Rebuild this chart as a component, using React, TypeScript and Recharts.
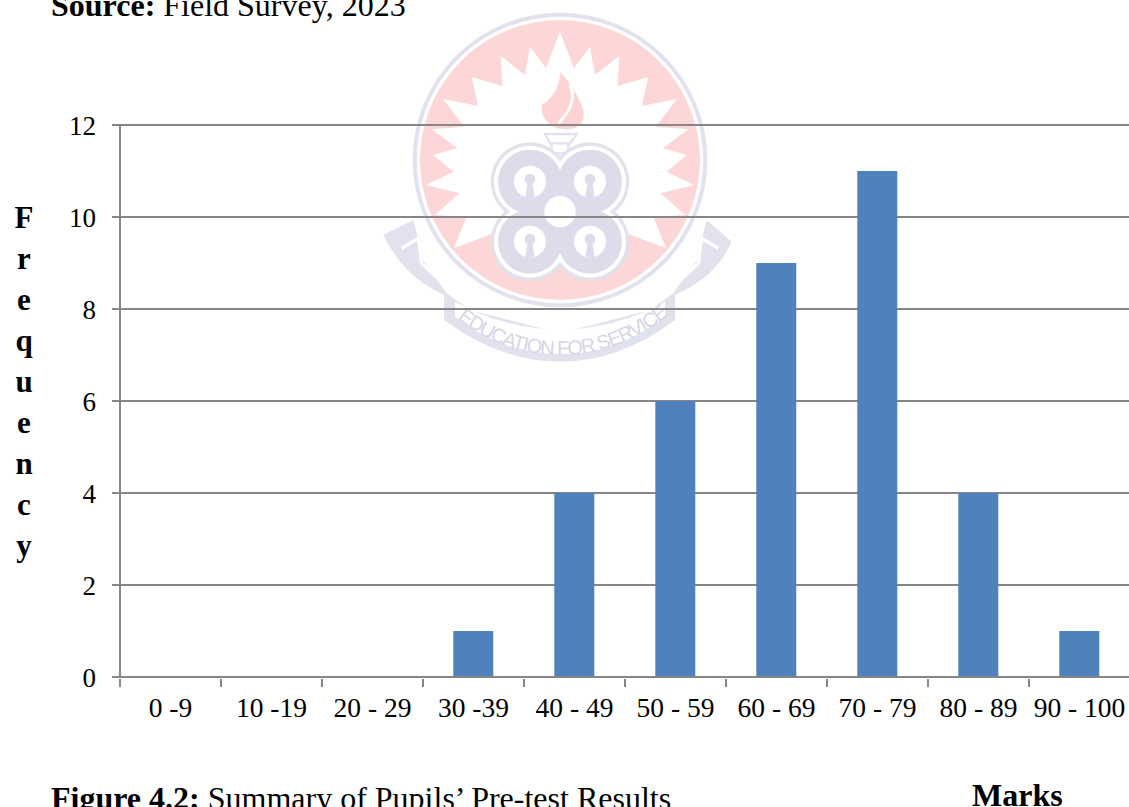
import { BarChart, Bar, XAxis, YAxis, CartesianGrid } from "recharts";

const markRanges = ["0 -9", "10 -19", "20 - 29", "30 -39", "40 - 49", "50 - 59", "60 - 69", "70 - 79", "80 - 89", "90 - 100"];
const frequencies = [0, 0, 0, 1, 4, 6, 9, 11, 4, 1];
const frequencyTicks = [0, 2, 4, 6, 8, 10, 12];
const yTitleLetters = ["F", "r", "e", "q", "u", "e", "n", "c", "y"];

const data = markRanges.map((range, i) => ({ range, frequency: frequencies[i] }));

const SERIF = '"Liberation Serif", "Times New Roman", serif';
const GREY = "#868686";

// university crest behind the plot
const starRight = [
  [612, 205], [660, 140], [675, 225], [748, 168], [742, 258], [835, 232], [815, 318], [920, 297],
  [858, 380], [955, 388], [878, 445], [950, 465], [890, 515], [972, 555], [872, 580], [945, 645],
  [850, 650], [888, 745], [770, 700],
];
const starPoints = [
  [570, 95],
  ...starRight,
  [570, 700],
  ...[...starRight].reverse().map(([x, y]) => [1140 - x, y]),
]
  .map((p) => p.join(","))
  .join(" ");

const cloverCentres = [
  [480, 545],
  [660, 545],
  [480, 725],
  [660, 725],
];

function Crest() {
  const ring = "#e2e2ee";
  const blue = "#dcdcea";
  return (
    <svg width={1129} height={807} style={{ position: "absolute", left: 0, top: 0 }}>
      <g transform="translate(370,0) scale(0.3333)">
        <path d="M40 705 L130 660 L160 780 L230 880 L300 930 L570 1000 L840 930 L910 880 L980 780 L1010 660 L1085 725 Q1040 830 915 885 L915 960 Q750 1085 570 1085 Q390 1085 222 960 L222 885 Q100 830 40 705 Z" fill={ring} />
        <path d="M255 950 Q400 1062 570 1062 Q740 1062 885 950 L885 905 Q740 985 570 990 Q400 985 255 905 Z" fill="#fff" />
        <path d="M95 745 L145 715 L155 790 L250 880" fill="none" stroke="#fff" strokeWidth={10} />
        <path d="M1045 745 L995 715 L985 790 L890 880" fill="none" stroke="#fff" strokeWidth={10} />
        <circle cx={570} cy={480} r={456} fill="#fff" />
        <circle cx={570} cy={480} r={442} fill={ring} />
        <circle cx={570} cy={480} r={430} fill="#fff" />
        <circle cx={570} cy={480} r={420} fill="#fdd7d7" />
        <polygon points={starPoints} fill="#fff" />
        <path d="M570 215 Q620 270 640 330 Q650 385 590 388 L560 385 Q510 360 515 315 Q570 280 570 215 Z" fill="#fdd3d3" />
        <path d="M600 255 Q625 310 565 370" fill="none" stroke="#fff" strokeWidth={9} />
        <path d="M525 402 H620 L600 430 H540 Z M545 430 H595 V460 H545 Z" fill="#fff" stroke={ring} strokeWidth={7} />
        {cloverCentres.map(([x, y]) => (
          <circle key={`o${x}${y}`} cx={x} cy={y} r={118} fill={ring} />
        ))}
        {cloverCentres.map(([x, y]) => (
          <circle key={`w${x}${y}`} cx={x} cy={y} r={108} fill="#fff" />
        ))}
        {cloverCentres.map(([x, y]) => (
          <circle key={`b${x}${y}`} cx={x} cy={y} r={96} fill={blue} />
        ))}
        <circle cx={570} cy={635} r={75} fill={blue} />
        {cloverCentres.map(([x, y]) => (
          <g key={`h${x}${y}`}>
            <circle cx={x} cy={y} r={48} fill="#fff" />
            <circle cx={x} cy={y - 8} r={16} fill={blue} />
            <polygon points={`${x - 7},${y} ${x + 7},${y} ${x + 14},${y + 48} ${x - 14},${y + 48}`} fill={blue} />
          </g>
        ))}
        <circle cx={570} cy={635} r={47} fill="#fff" />
        <path id="crestMotto" d="M262 955 Q400 1065 570 1065 Q740 1065 890 950" fill="none" />
        <text fontFamily='"Liberation Sans", sans-serif' fontSize={60} fill="#d6d6e6">
          <textPath href="#crestMotto" textLength={690}>EDUCATION FOR SERVICE</textPath>
        </text>
      </g>
    </svg>
  );
}

// the reference puts its x ticks between the categories, not under them
function RangeTick({ x, y, payload }: any) {
  const half = payload.offset ?? 0;
  return (
    <g>
      <line x1={x - half} x2={x - half} y1={y - 8} y2={y} stroke={GREY} strokeWidth={2} />
      <text x={x} y={y + 30} textAnchor="middle" fill="#000" fontSize={27.5} fontFamily={SERIF}>
        {payload.value}
      </text>
    </g>
  );
}

const line = (top: number, left: number, bold: string, rest: string) => (
  <div style={{ position: "absolute", left, top, fontSize: 32, lineHeight: "36px", whiteSpace: "nowrap" }}>
    <b>{bold}</b>
    {rest}
  </div>
);

export default function App() {
  return (
    <div
      style={{
        position: "absolute",
        left: 0,
        top: 0,
        width: 1129,
        height: 807,
        overflow: "hidden",
        background: "#fff",
        color: "#000",
        fontFamily: SERIF,
      }}
    >
      <Crest />
      {line(-13, 51, "Source:", " Field Survey, 2023")}
      {line(780, 51, "Figure 4.2:", " Summary of Pupils’ Pre-test Results")}
      {line(777, 972, "Marks", "")}
      {yTitleLetters.map((letter, i) => (
        <div
          key={i}
          style={{
            position: "absolute",
            left: 0,
            width: 48,
            top: 203 + i * 41,
            textAlign: "center",
            fontSize: 31,
            lineHeight: "30px",
            fontWeight: "bold",
          }}
        >
          {letter}
        </div>
      ))}
      <div style={{ position: "absolute", left: 0, top: 0 }}>
        <BarChart
          width={1132}
          height={807}
          data={data}
          margin={{ top: 125, right: 2, bottom: 80, left: 50 }}
          barCategoryGap="30%"
        >
          <CartesianGrid vertical={false} stroke={GREY} strokeWidth={2} />
          <XAxis
            dataKey="range"
            interval={0}
            height={50}
            tickSize={8}
            axisLine={{ stroke: GREY, strokeWidth: 2 }}
            tickLine={false}
            tick={RangeTick}
            scale="band"
          />
          <YAxis
            width={70}
            domain={[0, 12]}
            ticks={frequencyTicks}
            tickSize={8}
            tickMargin={16}
            axisLine={{ stroke: GREY, strokeWidth: 2 }}
            tickLine={{ stroke: GREY, strokeWidth: 2 }}
            tick={{ fill: "#000", fontSize: 27, fontFamily: SERIF }}
          />
          <Bar dataKey="frequency" fill="#4f81bd" isAnimationActive={false} />
        </BarChart>
      </div>
    </div>
  );
}
